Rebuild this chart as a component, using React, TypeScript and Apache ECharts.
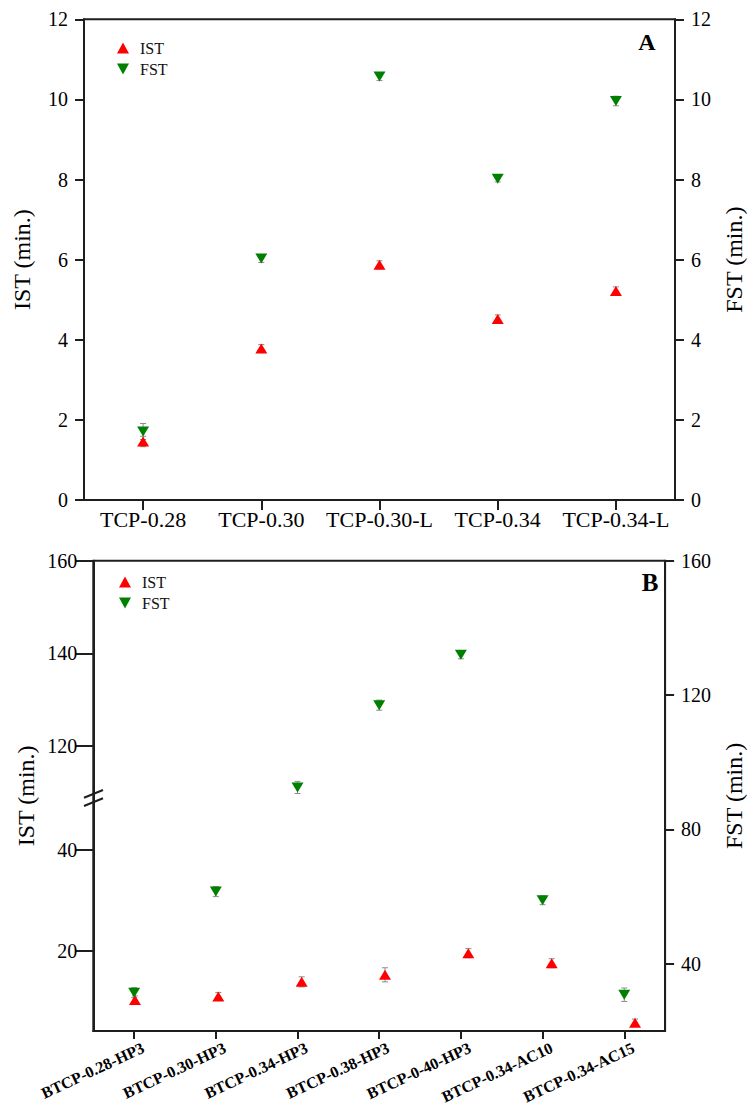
import React, { useEffect, useRef } from 'react';
import * as echarts from 'echarts';

// ---------- Data ----------
const catsA = ['TCP-0.28', 'TCP-0.30', 'TCP-0.30-L', 'TCP-0.34', 'TCP-0.34-L'];
const istA = [1.46, 3.78, 5.87, 4.52, 5.22];
const istErrA = [0.13, 0.1, 0.1, 0.1, 0.1];
const fstA = [1.71, 6.03, 10.57, 8.02, 9.96];
const fstErrA = [0.2, 0.1, 0.1, 0.08, 0.12];

const catsB = ['BTCP-0.28-HP3', 'BTCP-0.30-HP3', 'BTCP-0.34-HP3', 'BTCP-0.38-HP3', 'BTCP-0-40-HP3', 'BTCP-0.34-AC10', 'BTCP-0.34-AC15'];
const istB = [10.2, 10.9, 13.8, 15.2, 19.5, 17.5, 5.7];
const istErrB = [0.8, 0.8, 1.0, 1.4, 0.9, 0.9, 0.7];
const fstB = [31.4, 61.5, 92.5, 117, 132, 58.9, 30.8];
const fstErrB = [1.5, 1.5, 1.8, 1.5, 1.2, 1.3, 2.0];

const ticksA = [0, 2, 4, 6, 8, 10, 12];
const ticksBRight = [40, 80, 120, 160];
const ticksBUpper = [120, 140, 160];
const ticksBLower = [20, 40];
const rangeBRight = [20, 160];
const rangeBUpper = [108.8, 160];
const rangeBLower = [4.04, 50.33];

const FONT = 'Liberation Serif, Times New Roman, serif';
const AXIS = '#1e1e1e';
const RED = '#ff0000';
const GREEN = '#008000';
const DOWN_TRI = 'path://M0,0 L10,0 L5,9 Z';

const errData = (vals: number[], errs: number[]) =>
  vals.map((v, i) => [i, v - errs[i], v + errs[i]]);

const errorBarItem = (params: any, api: any) => {
  const x = api.value(0);
  const lo = api.coord([x, api.value(1)]);
  const hi = api.coord([x, api.value(2)]);
  const hw = 3;
  const style = { stroke: '#8c8c8c', lineWidth: 1 };
  return {
    type: 'group',
    children: [
      { type: 'line', shape: { x1: lo[0], y1: lo[1], x2: hi[0], y2: hi[1] }, style },
      { type: 'line', shape: { x1: lo[0] - hw, y1: lo[1], x2: lo[0] + hw, y2: lo[1] }, style },
      { type: 'line', shape: { x1: hi[0] - hw, y1: hi[1], x2: hi[0] + hw, y2: hi[1] }, style },
    ],
  };
};

const lineStyle = { color: AXIS, width: 2 };
const labelBase = { color: '#000', fontSize: 20, fontFamily: FONT, margin: 16 };

const valueAxis = (extra: any) => ({
  type: 'value',
  splitLine: { show: false },
  axisLine: { show: true, lineStyle },
  axisTick: { show: true, inside: false, length: 9, lineStyle },
  axisLabel: labelBase,
  nameTextStyle: { color: '#000', fontSize: 24, fontFamily: FONT },
  ...extra,
});

export default function App() {
  const ref = useRef<HTMLDivElement>(null);
  useEffect(() => {
    document.body.style.margin = '0';
    const chart = echarts.init(ref.current!, undefined, { renderer: 'svg' });
    const option: any = {
      animation: false,
      backgroundColor: '#ffffff',
      textStyle: { fontFamily: FONT },
      grid: [
        { left: 84, top: 19.3, width: 595.7, height: 480.7, show: true, borderColor: AXIS, borderWidth: 2, backgroundColor: 'transparent' },
        { left: 93.3, top: 560.7, width: 583.4, height: 470.3, show: true, borderColor: AXIS, borderWidth: 2, backgroundColor: 'transparent' },
        { left: 93.3, top: 560.7, width: 583.4, height: 237.3 },
        { left: 93.3, top: 798, width: 583.4, height: 233 },
      ],
      xAxis: [
        {
          type: 'category', gridIndex: 0, data: catsA, boundaryGap: true,
          axisLine: { show: true, onZero: false, lineStyle },
          axisTick: { show: true, alignWithLabel: true, length: 10, lineStyle },
          axisLabel: { color: '#000', fontSize: 22, fontFamily: FONT, margin: 8, interval: 0 },
        },
        {
          type: 'category', gridIndex: 1, data: catsB, boundaryGap: true,
          axisLine: { show: true, onZero: false, lineStyle },
          axisTick: { show: true, alignWithLabel: true, length: 8, lineStyle },
          axisLabel: {
            color: '#000', fontSize: 16, fontWeight: 'bold', fontFamily: FONT,
            margin: 20, rotate: 25, interval: 0, padding: [0, -10, 0, 0],
          },
        },
        { type: 'category', gridIndex: 2, data: catsB, show: false },
        { type: 'category', gridIndex: 3, data: catsB, show: false },
      ],
      yAxis: [
        valueAxis({
          gridIndex: 0, position: 'left', min: ticksA[0], max: ticksA[ticksA.length - 1], interval: 2,
          name: 'IST (min.)', nameLocation: 'middle', nameRotate: 90, nameGap: 50,
        }),
        valueAxis({
          gridIndex: 0, position: 'right', min: ticksA[0], max: ticksA[ticksA.length - 1], interval: 2,
          name: 'FST (min.)', nameLocation: 'middle', nameRotate: 90, nameGap: 47,
        }),
        valueAxis({
          gridIndex: 1, position: 'right', min: rangeBRight[0], max: rangeBRight[1],
          axisLabel: { ...labelBase, customValues: ticksBRight },
          axisTick: { show: true, length: 9, lineStyle, customValues: ticksBRight },
          name: 'FST (min.)', nameLocation: 'middle', nameRotate: 90, nameGap: 53,
        }),
        {
          type: 'value', gridIndex: 1, position: 'left', min: 0, max: 1,
          axisLine: { show: false }, axisTick: { show: false }, axisLabel: { show: false }, splitLine: { show: false },
          name: 'IST (min.)', nameLocation: 'middle', nameRotate: 90, nameGap: 55,
          nameTextStyle: { color: '#000', fontSize: 24, fontFamily: FONT },
        },
        valueAxis({
          gridIndex: 2, position: 'left', min: rangeBUpper[0], max: rangeBUpper[1],
          axisLabel: { ...labelBase, customValues: ticksBUpper },
          axisTick: { show: true, length: 18, lineStyle, customValues: ticksBUpper },
        }),
        valueAxis({
          gridIndex: 3, position: 'left', min: rangeBLower[0], max: rangeBLower[1],
          axisLabel: { ...labelBase, customValues: ticksBLower },
          axisTick: { show: true, length: 18, lineStyle, customValues: ticksBLower },
        }),
      ],
      legend: [
        {
          orient: 'vertical', left: 112, top: 35, itemWidth: 12, itemHeight: 11, itemGap: 5,
          textStyle: { fontSize: 16, fontFamily: FONT, color: '#111', padding: [0, 0, 0, 6] },
          data: [{ name: 'IST', icon: 'triangle' }, { name: 'FST', icon: DOWN_TRI }],
          selectedMode: false,
        },
        {
          orient: 'vertical', left: 114, top: 569, itemWidth: 12, itemHeight: 11, itemGap: 5,
          textStyle: { fontSize: 16, fontFamily: FONT, color: '#111', padding: [0, 0, 0, 6] },
          data: [{ name: 'IST', icon: 'triangle' }, { name: 'FST', icon: DOWN_TRI }],
          selectedMode: false,
        },
      ],
      graphic: [
        { type: 'text', x: 647, y: 42, style: { text: 'A', font: `bold 24px ${FONT}`, fill: '#000', align: 'center', verticalAlign: 'middle' } },
        { type: 'text', x: 650, y: 582, style: { text: 'B', font: `bold 25px ${FONT}`, fill: '#000', align: 'center', verticalAlign: 'middle' } },
        { type: 'line', shape: { x1: 84, y1: 797.7, x2: 103, y2: 790 }, style: { stroke: AXIS, lineWidth: 2 } },
        { type: 'line', shape: { x1: 84, y1: 806, x2: 103, y2: 798.3 }, style: { stroke: AXIS, lineWidth: 2 } },
      ],
      series: [
        { name: 'IST err A', type: 'custom', xAxisIndex: 0, yAxisIndex: 0, renderItem: errorBarItem, encode: { x: 0, y: [1, 2] }, data: errData(istA, istErrA), z: 1 },
        { name: 'FST err A', type: 'custom', xAxisIndex: 0, yAxisIndex: 1, renderItem: errorBarItem, encode: { x: 0, y: [1, 2] }, data: errData(fstA, fstErrA), z: 1 },
        { name: 'IST', type: 'scatter', xAxisIndex: 0, yAxisIndex: 0, data: istA, symbol: 'triangle', symbolSize: [12, 10], itemStyle: { color: RED, opacity: 1 }, z: 3 },
        { name: 'FST', type: 'scatter', xAxisIndex: 0, yAxisIndex: 1, data: fstA, symbol: 'triangle', symbolRotate: 180, symbolSize: [12, 10], itemStyle: { color: GREEN, opacity: 1 }, z: 3 },
        { name: 'IST err B', type: 'custom', xAxisIndex: 3, yAxisIndex: 5, renderItem: errorBarItem, encode: { x: 0, y: [1, 2] }, data: errData(istB, istErrB), z: 1 },
        { name: 'FST err B', type: 'custom', xAxisIndex: 1, yAxisIndex: 2, renderItem: errorBarItem, encode: { x: 0, y: [1, 2] }, data: errData(fstB, fstErrB), z: 1 },
        { name: 'IST', type: 'scatter', xAxisIndex: 3, yAxisIndex: 5, data: istB, symbol: 'triangle', symbolSize: [12, 10], itemStyle: { color: RED, opacity: 1 }, z: 3 },
        { name: 'FST', type: 'scatter', xAxisIndex: 1, yAxisIndex: 2, data: fstB, symbol: 'triangle', symbolRotate: 180, symbolSize: [12, 10], itemStyle: { color: GREEN, opacity: 1 }, z: 3 },
      ],
    };
    chart.setOption(option);
    return () => chart.dispose();
  }, []);
  return <div ref={ref} style={{ width: 754, height: 1109 }} />;
}
